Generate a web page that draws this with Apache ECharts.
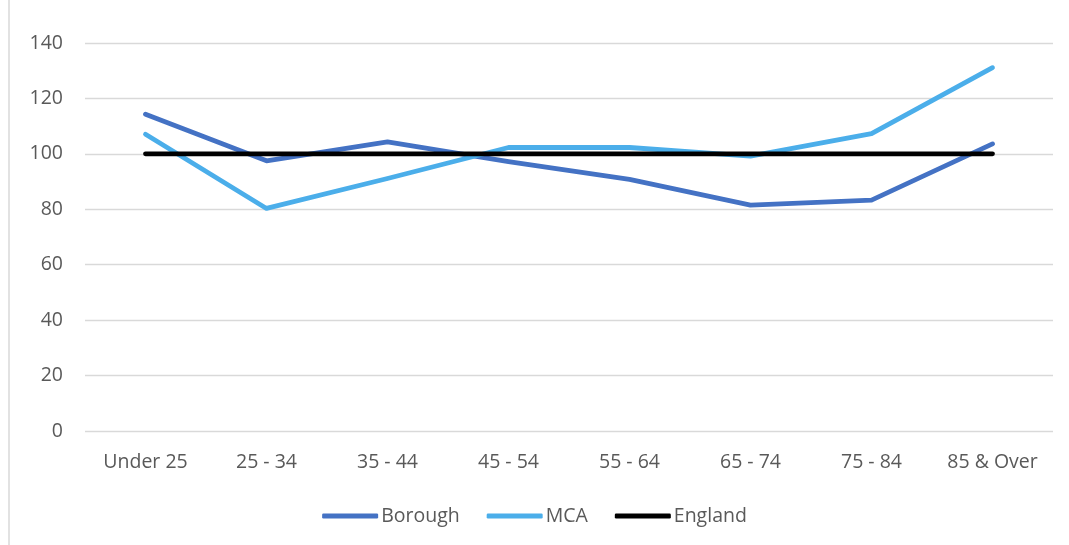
<!DOCTYPE html>
<html><head><meta charset="utf-8">
<script src="https://cdn.jsdelivr.net/npm/echarts@6/dist/echarts.min.js"></script>
<style>html,body{margin:0;padding:0;background:#fff;}#c{width:1069px;height:545px;}</style>
</head><body><div id="c"></div>
<script>
const categories = ["Under 25","25 - 34","35 - 44","45 - 54","55 - 64","65 - 74","75 - 84","85 & Over"];
const borough = [114.3, 97.5, 104.3, 97.2, 90.8, 81.5, 83.3, 103.6];
const mca = [107.1, 80.3, 91.1, 102.3, 102.3, 99.2, 107.3, 131.1];
const england = [100, 100, 100, 100, 100, 100, 100, 100];
const yTicks = {min: 0, max: 140, interval: 20};

const font = '"Open Sans", sans-serif';
const fs = 19.5;
const chart = echarts.init(document.getElementById('c'), null, {renderer: 'canvas'});
function mk(name, data, color) {
  return {name, type: 'line', data, symbol: 'none', smooth: false,
    lineStyle: {color, width: 4.8, cap: 'round', join: 'round'},
    itemStyle: {color}, emphasis: {disabled: true}};
}
chart.setOption({
  animation: false,
  backgroundColor: '#fff',
  graphic: [{type: 'line', shape: {x1: 9, y1: 0, x2: 9, y2: 545}, style: {stroke: '#d9d9d9', lineWidth: 1.5}}],
  grid: {left: 85, right: 16, top: 43, bottom: 114, containLabel: false},
  legend: {bottom: 14, left: 'center', itemWidth: 56, itemHeight: 5, itemGap: 27,
    icon: 'roundRect',
    textStyle: {fontFamily: font, fontSize: fs, color: '#595959', padding: [0, 0, 0, -2]},
    data: ['Borough', 'MCA', 'England']},
  xAxis: {type: 'category', data: categories, boundaryGap: true,
    axisLine: {show: false}, axisTick: {show: false},
    axisLabel: {fontFamily: font, fontSize: fs, color: '#595959', margin: 21}},
  yAxis: {type: 'value', min: yTicks.min, max: yTicks.max, interval: yTicks.interval,
    axisLine: {show: false}, axisTick: {show: false},
    axisLabel: {fontFamily: font, fontSize: fs, color: '#595959', margin: 22},
    splitLine: {lineStyle: {color: '#d9d9d9', width: 1.3}}},
  series: [mk('Borough', borough, '#4472C4'), mk('MCA', mca, '#4BAEEA'), mk('England', england, '#000000')]
});
</script></body></html>
